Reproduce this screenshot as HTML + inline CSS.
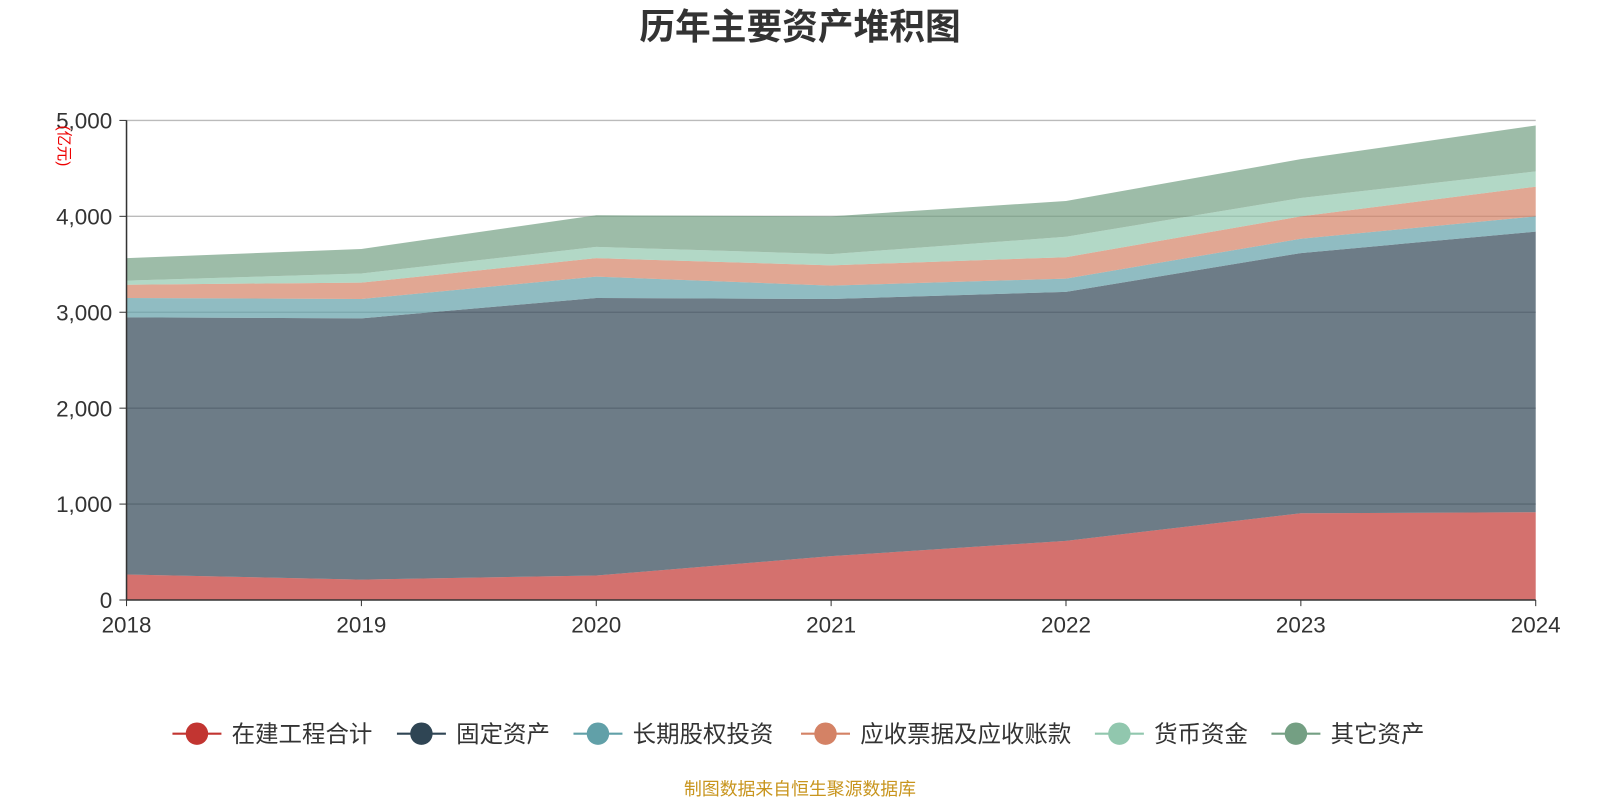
<!DOCTYPE html>
<html><head><meta charset="utf-8"><style>
body{margin:0;background:#fff;}
svg{display:block;font-family:"Liberation Sans","Noto Sans CJK SC",sans-serif;}
</style></head><body>
<svg id="chart" width="1600" height="800" viewBox="0 0 1568 784">
<text x="784" y="38" text-anchor="middle" font-size="35" font-weight="bold" fill="#333">历年主要资产堆积图</text>
<g id="grid"></g>
<g id="areas"></g>
<g id="axes"></g>
<text transform="translate(58,143) rotate(90)" text-anchor="middle" font-size="15" fill="#e00">(亿元)</text>
<g id="legend"></g>
<text x="784" y="779" text-anchor="middle" font-size="17.5" fill="#c8951e">制图数据来自恒生聚源数据库</text>
</svg>
<script>
const years=["2018","2019","2020","2021","2022","2023","2024"];
const seriesNames=["在建工程合计","固定资产","长期股权投资","应收票据及应收账款","货币资金","其它资产"];
const cip=[266,213,255,457,617,904,915];
const fixedAssets=[2681,2723,2894,2681,2596,2713,2925];
const ltEquity=[202,202,223,139,138,149,160];
const receivables=[138,171,192,212,223,234,309];
const cash=[43,95,117,117,213,191,159];
const otherAssets=[234,256,330,394,373,405,479];
const yTicks=[0,1000,2000,3000,4000,5000];
const yTickLabels=["0","1,000","2,000","3,000","4,000","5,000"];
const colors=["#c23531","#2f4554","#61a0a8","#d48265","#91c7ae","#749f83"];
const NS="http://www.w3.org/2000/svg";
const x0=124,x1=1505,y0=588,y1=118,yMax=5000;
const xs=i=>x0+(x1-x0)*i/(years.length-1);
const ys=v=>y0-(y0-y1)*v/yMax;
function mk(tag,attrs,parent){const e=document.createElementNS(NS,tag);for(const k in attrs)e.setAttribute(k,attrs[k]);parent.appendChild(e);return e;}
const grid=document.getElementById('grid'),areas=document.getElementById('areas'),axes=document.getElementById('axes'),legend=document.getElementById('legend');
yTicks.forEach((t,i)=>{
 if(t>0){const l=mk('line',{x1:x0,x2:x1,y1:ys(t),y2:ys(t),stroke:'#bbb','stroke-width':1.3},grid);
 
 }
 const tk=mk('line',{x1:x0-7,x2:x0,y1:ys(t),y2:ys(t),stroke:'#333'},axes);
 
 
 const tx=mk('text',{x:x0-14,y:ys(t)+8,'text-anchor':'end','font-size':22,fill:'#333'},axes);
 tx.textContent=yTickLabels[i];
 
 
});
const data=[cip,fixedAssets,ltEquity,receivables,cash,otherAssets];
let base=years.map(()=>0);
data.forEach((s,k)=>{
 const top=base.map((b,i)=>b+s[i]);
 let d='M'+years.map((_,i)=>xs(i)+','+ys(top[i])).join('L');
 for(let i=years.length-1;i>=0;i--)d+='L'+xs(i)+','+ys(base[i]);
 d+='Z';
 const p=mk('path',{d:d,fill:colors[k],'fill-opacity':0.7},areas);
 
 
 base=top;
});
const ax=mk('line',{x1:x0,x2:x0,y1:y1,y2:y0,stroke:'#333','stroke-width':1.5},axes);


const bx=mk('line',{x1:x0,x2:x1,y1:y0,y2:y0,stroke:'#333','stroke-width':1.5},axes);


years.forEach((yv,i)=>{
 const tk=mk('line',{x1:xs(i),x2:xs(i),y1:y0,y2:y0+6,stroke:'#333'},axes);
 
 
 const t=mk('text',{x:xs(i),y:y0+32,'text-anchor':'middle','font-size':22,fill:'#333'},axes);
 t.textContent=yv;
 
 
});
const lx=[169,389,562,785,1073,1246];
seriesNames.forEach((n,k)=>{
 const g=mk('g',{},legend);
 
 
 mk('line',{x1:lx[k],x2:lx[k]+48,y1:719,y2:719,stroke:colors[k],'stroke-width':2},g);
 mk('circle',{cx:lx[k]+24,cy:719,r:11,fill:colors[k]},g);
 const t=mk('text',{x:lx[k]+58,y:727,'font-size':23,fill:'#333'},g);
 t.textContent=n;
});
</script>
</body></html>
